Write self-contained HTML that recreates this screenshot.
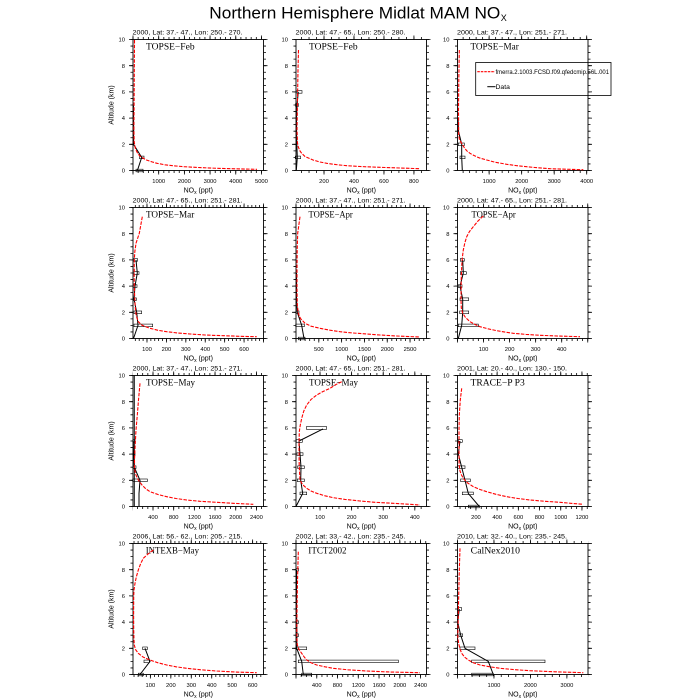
<!DOCTYPE html>
<html><head><meta charset="utf-8"><style>
html,body{margin:0;padding:0;background:#fff}
svg{display:block}
text{font-family:"Liberation Sans",sans-serif;fill:#000}
.yl{font-size:5.8px;text-anchor:end}
.xl{font-size:5.8px;text-anchor:middle}
.st{font-size:6.6px}
.pl{font-family:"Liberation Serif",serif;font-size:9.5px}
.at{font-size:7px;text-anchor:middle}
.tk{stroke:#000;fill:none}
.M{stroke-width:4}
.m{stroke-width:2.5}
.red{fill:none;stroke:#f00;stroke-width:1.1;stroke-dasharray:3.5 1.3;stroke-linejoin:round}
.blk{fill:none;stroke:#000;stroke-width:1;stroke-linejoin:round}
.bx{fill:none;stroke:#000;stroke-width:0.6}
</style></head><body>
<svg width="700" height="700" viewBox="0 0 700 700" xmlns="http://www.w3.org/2000/svg">
<rect width="700" height="700" fill="#fff"/>
<defs>
<g id="yt">
<path class="tk M" d="M-2 -0.4V131.4" stroke-dasharray="0.8 25.4"/>
<path class="tk m" d="M-1.25 -0.4V131.4" stroke-dasharray="0.8 5.75"/>
<path class="tk M" d="M132.5 -0.4V131.4" stroke-dasharray="0.8 25.4"/>
<path class="tk m" d="M131.75 -0.4V131.4" stroke-dasharray="0.8 5.75"/>
<rect x="0" y="0" width="130.5" height="131" fill="none" stroke="#000" stroke-width="0.9"/>
</g>
</defs>

<text x="209.3" y="18.5" font-size="17" textLength="291" lengthAdjust="spacingAndGlyphs">Northern Hemisphere Midlat MAM NO</text>
<text x="500.8" y="20.8" font-size="9">X</text>

<!-- Panel 1 -->
<g transform="translate(133,39.5)">
<use href="#yt"/>
<path class="tk M" d="M-0.4 133H130.9" stroke-dasharray="0.8 24.89"/>
<path class="tk m" d="M-0.4 132.25H130.9" stroke-dasharray="0.8 4.338"/>
<path class="tk M" d="M-0.4 -2H130.9" stroke-dasharray="0.8 24.89"/>
<path class="tk m" d="M-0.4 -1.25H130.9" stroke-dasharray="0.8 4.338"/>
<text class="yl" x="-8" y="133.1">0</text><text class="yl" x="-8" y="106.9">2</text><text class="yl" x="-8" y="80.7">4</text><text class="yl" x="-8" y="54.5">6</text><text class="yl" x="-8" y="28.3">8</text><text class="yl" x="-8" y="2.1">10</text>
<text class="xl" x="25.69" y="143.5">1000</text><text class="xl" x="51.38" y="143.5">2000</text><text class="xl" x="77.07" y="143.5">3000</text><text class="xl" x="102.76" y="143.5">4000</text><text class="xl" x="128.45" y="143.5">5000</text>
<text class="at" x="65.25" y="153">NO<tspan font-size="5" dy="1.5">x</tspan><tspan dy="-1.5"> (ppt)</tspan></text>
<text class="at" transform="translate(-19.5,65.5) rotate(-90)">Altitude (km)</text>
<text class="st" x="-0.5" y="-5" textLength="110" lengthAdjust="spacingAndGlyphs">2000, Lat: 37.- 47., Lon: 250.- 270.</text>
<text class="pl" x="13" y="10" textLength="48.6" lengthAdjust="spacingAndGlyphs">TOPSE−Feb</text>
</g>

<!-- Panel 2 -->
<g transform="translate(296,39.5)">
<use href="#yt"/>
<path class="tk M" d="M-0.4 133H130.9" stroke-dasharray="0.8 29.17" stroke-dashoffset="1.95"/>
<path class="tk m" d="M-0.4 132.25H130.9" stroke-dasharray="0.8 6.69" stroke-dashoffset="1.95"/>
<path class="tk M" d="M-0.4 -2H130.9" stroke-dasharray="0.8 29.17" stroke-dashoffset="1.95"/>
<path class="tk m" d="M-0.4 -1.25H130.9" stroke-dasharray="0.8 6.69" stroke-dashoffset="1.95"/>
<text class="yl" x="-8" y="133.1">0</text><text class="yl" x="-8" y="106.9">2</text><text class="yl" x="-8" y="80.7">4</text><text class="yl" x="-8" y="54.5">6</text><text class="yl" x="-8" y="28.3">8</text><text class="yl" x="-8" y="2.1">10</text>
<text class="xl" x="28.02" y="143.5">200</text><text class="xl" x="57.98" y="143.5">400</text><text class="xl" x="87.95" y="143.5">600</text><text class="xl" x="117.92" y="143.5">800</text>
<text class="at" x="65.25" y="153">NO<tspan font-size="5" dy="1.5">x</tspan><tspan dy="-1.5"> (ppt)</tspan></text>
<text class="st" x="-0.5" y="-5" textLength="110" lengthAdjust="spacingAndGlyphs">2000, Lat: 47.- 65., Lon: 250.- 280.</text>
<text class="pl" x="13" y="10" textLength="48.6" lengthAdjust="spacingAndGlyphs">TOPSE−Feb</text>
</g>

<!-- Panel 3 -->
<g transform="translate(457.5,39.5)">
<use href="#yt"/>
<path class="tk M" d="M-0.4 133H130.9" stroke-dasharray="0.8 31.72" stroke-dashoffset="0.878"/>
<path class="tk m" d="M-0.4 132.25H130.9" stroke-dasharray="0.8 5.704" stroke-dashoffset="0.878"/>
<path class="tk M" d="M-0.4 -2H130.9" stroke-dasharray="0.8 31.72" stroke-dashoffset="0.878"/>
<path class="tk m" d="M-0.4 -1.25H130.9" stroke-dasharray="0.8 5.704" stroke-dashoffset="0.878"/>
<text class="yl" x="-8" y="133.1">0</text><text class="yl" x="-8" y="106.9">2</text><text class="yl" x="-8" y="80.7">4</text><text class="yl" x="-8" y="54.5">6</text><text class="yl" x="-8" y="28.3">8</text><text class="yl" x="-8" y="2.1">10</text>
<text class="xl" x="31.64" y="143.5">1000</text><text class="xl" x="64.16" y="143.5">2000</text><text class="xl" x="96.68" y="143.5">3000</text><text class="xl" x="129.2" y="143.5">4000</text>
<text class="at" x="65.25" y="153">NO<tspan font-size="5" dy="1.5">x</tspan><tspan dy="-1.5"> (ppt)</tspan></text>
<text class="st" x="-0.5" y="-5" textLength="110" lengthAdjust="spacingAndGlyphs">2000, Lat: 37.- 47., Lon: 251.- 271.</text>
<text class="pl" x="13" y="10" textLength="48.3" lengthAdjust="spacingAndGlyphs">TOPSE−Mar</text>
</g>

<!-- Panel 4 -->
<g transform="translate(133,207.5)">
<use href="#yt"/>
<path class="tk M" d="M-0.4 133H130.9" stroke-dasharray="0.8 18.62" stroke-dashoffset="5.44"/>
<path class="tk m" d="M-0.4 132.25H130.9" stroke-dasharray="0.8 3.084" stroke-dashoffset="1.556"/>
<path class="tk M" d="M-0.4 -2H130.9" stroke-dasharray="0.8 18.62" stroke-dashoffset="5.44"/>
<path class="tk m" d="M-0.4 -1.25H130.9" stroke-dasharray="0.8 3.084" stroke-dashoffset="1.556"/>
<text class="yl" x="-8" y="133.1">0</text><text class="yl" x="-8" y="106.9">2</text><text class="yl" x="-8" y="80.7">4</text><text class="yl" x="-8" y="54.5">6</text><text class="yl" x="-8" y="28.3">8</text><text class="yl" x="-8" y="2.1">10</text>
<text class="xl" x="13.98" y="143.5">100</text><text class="xl" x="33.4" y="143.5">200</text><text class="xl" x="52.82" y="143.5">300</text><text class="xl" x="72.24" y="143.5">400</text><text class="xl" x="91.66" y="143.5">500</text><text class="xl" x="111.08" y="143.5">600</text>
<text class="at" x="65.25" y="153">NO<tspan font-size="5" dy="1.5">x</tspan><tspan dy="-1.5"> (ppt)</tspan></text>
<text class="at" transform="translate(-19.5,65.5) rotate(-90)">Altitude (km)</text>
<text class="st" x="-0.5" y="-5" textLength="110" lengthAdjust="spacingAndGlyphs">2000, Lat: 47.- 65., Lon: 251.- 281.</text>
<text class="pl" x="13" y="10" textLength="48.3" lengthAdjust="spacingAndGlyphs">TOPSE−Mar</text>
</g>

<!-- Panel 5 -->
<g transform="translate(296,207.5)">
<use href="#yt"/>
<path class="tk M" d="M-0.4 133H130.9" stroke-dasharray="0.8 22.01"/>
<path class="tk m" d="M-0.4 132.25H130.9" stroke-dasharray="0.8 3.763"/>
<path class="tk M" d="M-0.4 -2H130.9" stroke-dasharray="0.8 22.01"/>
<path class="tk m" d="M-0.4 -1.25H130.9" stroke-dasharray="0.8 3.763"/>
<text class="yl" x="-8" y="133.1">0</text><text class="yl" x="-8" y="106.9">2</text><text class="yl" x="-8" y="80.7">4</text><text class="yl" x="-8" y="54.5">6</text><text class="yl" x="-8" y="28.3">8</text><text class="yl" x="-8" y="2.1">10</text>
<text class="xl" x="22.81" y="143.5">500</text><text class="xl" x="45.63" y="143.5">1000</text><text class="xl" x="68.44" y="143.5">1500</text><text class="xl" x="91.26" y="143.5">2000</text><text class="xl" x="114.07" y="143.5">2500</text>
<text class="at" x="65.25" y="153">NO<tspan font-size="5" dy="1.5">x</tspan><tspan dy="-1.5"> (ppt)</tspan></text>
<text class="st" x="-0.5" y="-5" textLength="110" lengthAdjust="spacingAndGlyphs">2000, Lat: 37.- 47., Lon: 251.- 271.</text>
<text class="pl" x="12.5" y="10" textLength="44.3" lengthAdjust="spacingAndGlyphs">TOPSE−Apr</text>
</g>

<!-- Panel 6 -->
<g transform="translate(457.5,207.5)">
<use href="#yt"/>
<path class="tk M" d="M-0.4 133H130.9" stroke-dasharray="0.8 25.25"/>
<path class="tk m" d="M-0.4 132.25H130.9" stroke-dasharray="0.8 4.41"/>
<path class="tk M" d="M-0.4 -2H130.9" stroke-dasharray="0.8 25.25"/>
<path class="tk m" d="M-0.4 -1.25H130.9" stroke-dasharray="0.8 4.41"/>
<text class="yl" x="-8" y="133.1">0</text><text class="yl" x="-8" y="106.9">2</text><text class="yl" x="-8" y="80.7">4</text><text class="yl" x="-8" y="54.5">6</text><text class="yl" x="-8" y="28.3">8</text><text class="yl" x="-8" y="2.1">10</text>
<text class="xl" x="26.05" y="143.5">100</text><text class="xl" x="52.1" y="143.5">200</text><text class="xl" x="78.14" y="143.5">300</text><text class="xl" x="104.19" y="143.5">400</text>
<text class="at" x="65.25" y="153">NO<tspan font-size="5" dy="1.5">x</tspan><tspan dy="-1.5"> (ppt)</tspan></text>
<text class="st" x="-0.5" y="-5" textLength="110" lengthAdjust="spacingAndGlyphs">2000, Lat: 47.- 65., Lon: 251.- 281.</text>
<text class="pl" x="14" y="10" textLength="44.3" lengthAdjust="spacingAndGlyphs">TOPSE−Apr</text>
</g>

<!-- Panel 7 -->
<g transform="translate(133,375.5)">
<use href="#yt"/>
<path class="tk M" d="M-0.4 133H130.9" stroke-dasharray="0.8 19.88" stroke-dashoffset="0.672"/>
<path class="tk m" d="M-0.4 132.25H130.9" stroke-dasharray="0.8 4.37" stroke-dashoffset="0.672"/>
<path class="tk M" d="M-0.4 -2H130.9" stroke-dasharray="0.8 19.88" stroke-dashoffset="0.672"/>
<path class="tk m" d="M-0.4 -1.25H130.9" stroke-dasharray="0.8 4.37" stroke-dashoffset="0.672"/>
<text class="yl" x="-8" y="133.1">0</text><text class="yl" x="-8" y="106.9">2</text><text class="yl" x="-8" y="80.7">4</text><text class="yl" x="-8" y="54.5">6</text><text class="yl" x="-8" y="28.3">8</text><text class="yl" x="-8" y="2.1">10</text>
<text class="xl" x="20.01" y="143.5">400</text><text class="xl" x="40.69" y="143.5">800</text><text class="xl" x="61.37" y="143.5">1200</text><text class="xl" x="82.05" y="143.5">1600</text><text class="xl" x="102.73" y="143.5">2000</text><text class="xl" x="123.41" y="143.5">2400</text>
<text class="at" x="65.25" y="153">NO<tspan font-size="5" dy="1.5">x</tspan><tspan dy="-1.5"> (ppt)</tspan></text>
<text class="at" transform="translate(-19.5,65.5) rotate(-90)">Altitude (km)</text>
<text class="st" x="-0.5" y="-5" textLength="110" lengthAdjust="spacingAndGlyphs">2000, Lat: 37.- 47., Lon: 251.- 271.</text>
<text class="pl" x="13" y="10" textLength="49" lengthAdjust="spacingAndGlyphs">TOPSE−May</text>
</g>

<!-- Panel 8 -->
<g transform="translate(296,375.5)">
<use href="#yt"/>
<path class="tk M" d="M-0.4 133H130.9" stroke-dasharray="0.8 30.8" stroke-dashoffset="7.58"/>
<path class="tk m" d="M-0.4 132.25H130.9" stroke-dasharray="0.8 5.52" stroke-dashoffset="1.26"/>
<path class="tk M" d="M-0.4 -2H130.9" stroke-dasharray="0.8 30.8" stroke-dashoffset="7.58"/>
<path class="tk m" d="M-0.4 -1.25H130.9" stroke-dasharray="0.8 5.52" stroke-dashoffset="1.26"/>
<text class="yl" x="-8" y="133.1">0</text><text class="yl" x="-8" y="106.9">2</text><text class="yl" x="-8" y="80.7">4</text><text class="yl" x="-8" y="54.5">6</text><text class="yl" x="-8" y="28.3">8</text><text class="yl" x="-8" y="2.1">10</text>
<text class="xl" x="24.01" y="143.5">100</text><text class="xl" x="55.61" y="143.5">200</text><text class="xl" x="87.21" y="143.5">300</text><text class="xl" x="118.81" y="143.5">400</text>
<text class="at" x="65.25" y="153">NO<tspan font-size="5" dy="1.5">x</tspan><tspan dy="-1.5"> (ppt)</tspan></text>
<text class="st" x="-0.5" y="-5" textLength="110" lengthAdjust="spacingAndGlyphs">2000, Lat: 47.- 65., Lon: 251.- 281.</text>
<text class="pl" x="13" y="10" textLength="49" lengthAdjust="spacingAndGlyphs">TOPSE−May</text>
</g>

<!-- Panel 9 -->
<g transform="translate(457.5,375.5)">
<use href="#yt"/>
<path class="tk M" d="M-0.4 133H130.9" stroke-dasharray="0.8 20.4" stroke-dashoffset="2.76"/>
<path class="tk m" d="M-0.4 132.25H130.9" stroke-dasharray="0.8 4.5" stroke-dashoffset="2.76"/>
<path class="tk M" d="M-0.4 -2H130.9" stroke-dasharray="0.8 20.4" stroke-dashoffset="2.76"/>
<path class="tk m" d="M-0.4 -1.25H130.9" stroke-dasharray="0.8 4.5" stroke-dashoffset="2.76"/>
<text class="yl" x="-8" y="133.1">0</text><text class="yl" x="-8" y="106.9">2</text><text class="yl" x="-8" y="80.7">4</text><text class="yl" x="-8" y="54.5">6</text><text class="yl" x="-8" y="28.3">8</text><text class="yl" x="-8" y="2.1">10</text>
<text class="xl" x="18.45" y="143.5">200</text><text class="xl" x="39.65" y="143.5">400</text><text class="xl" x="60.85" y="143.5">600</text><text class="xl" x="82.05" y="143.5">800</text><text class="xl" x="103.26" y="143.5">1000</text><text class="xl" x="124.46" y="143.5">1200</text>
<text class="at" x="65.25" y="153">NO<tspan font-size="5" dy="1.5">x</tspan><tspan dy="-1.5"> (ppt)</tspan></text>
<text class="st" x="-0.5" y="-5" textLength="110" lengthAdjust="spacingAndGlyphs">2001, Lat: 20.- 40., Lon: 130.- 150.</text>
<text class="pl" x="13" y="10" textLength="54.3" lengthAdjust="spacingAndGlyphs">TRACE−P P3</text>
</g>

<!-- Panel 10 -->
<g transform="translate(133,543.5)">
<use href="#yt"/>
<path class="tk M" d="M-0.4 133H130.9" stroke-dasharray="0.8 19.65" stroke-dashoffset="3.07"/>
<path class="tk m" d="M-0.4 132.25H130.9" stroke-dasharray="0.8 3.29" stroke-dashoffset="3.07"/>
<path class="tk M" d="M-0.4 -2H130.9" stroke-dasharray="0.8 19.65" stroke-dashoffset="3.07"/>
<path class="tk m" d="M-0.4 -1.25H130.9" stroke-dasharray="0.8 3.29" stroke-dashoffset="3.07"/>
<text class="yl" x="-8" y="133.1">0</text><text class="yl" x="-8" y="106.9">2</text><text class="yl" x="-8" y="80.7">4</text><text class="yl" x="-8" y="54.5">6</text><text class="yl" x="-8" y="28.3">8</text><text class="yl" x="-8" y="2.1">10</text>
<text class="xl" x="17.39" y="143.5">100</text><text class="xl" x="37.84" y="143.5">200</text><text class="xl" x="58.3" y="143.5">300</text><text class="xl" x="78.75" y="143.5">400</text><text class="xl" x="99.2" y="143.5">500</text><text class="xl" x="119.66" y="143.5">600</text>
<text class="at" x="65.25" y="153">NO<tspan font-size="5" dy="1.5">x</tspan><tspan dy="-1.5"> (ppt)</tspan></text>
<text class="at" transform="translate(-19.5,65.5) rotate(-90)">Altitude (km)</text>
<text class="st" x="-0.5" y="-5" textLength="110" lengthAdjust="spacingAndGlyphs">2006, Lat: 56.- 62., Lon: 205.- 215.</text>
<text class="pl" x="12.7" y="10" textLength="53.3" lengthAdjust="spacingAndGlyphs">INTEXB−May</text>
</g>

<!-- Panel 11 -->
<g transform="translate(296,543.5)">
<use href="#yt"/>
<path class="tk M" d="M-0.4 133H130.9" stroke-dasharray="0.8 19.96"/>
<path class="tk m" d="M-0.4 132.25H130.9" stroke-dasharray="0.8 4.39"/>
<path class="tk M" d="M-0.4 -2H130.9" stroke-dasharray="0.8 19.96"/>
<path class="tk m" d="M-0.4 -1.25H130.9" stroke-dasharray="0.8 4.39"/>
<text class="yl" x="-8" y="133.1">0</text><text class="yl" x="-8" y="106.9">2</text><text class="yl" x="-8" y="80.7">4</text><text class="yl" x="-8" y="54.5">6</text><text class="yl" x="-8" y="28.3">8</text><text class="yl" x="-8" y="2.1">10</text>
<text class="xl" x="20.76" y="143.5">400</text><text class="xl" x="41.53" y="143.5">800</text><text class="xl" x="62.29" y="143.5">1200</text><text class="xl" x="83.05" y="143.5">1600</text><text class="xl" x="103.82" y="143.5">2000</text><text class="xl" x="124.58" y="143.5">2400</text>
<text class="at" x="65.25" y="153">NO<tspan font-size="5" dy="1.5">x</tspan><tspan dy="-1.5"> (ppt)</tspan></text>
<text class="st" x="-0.5" y="-5" textLength="110" lengthAdjust="spacingAndGlyphs">2002, Lat: 33.- 42., Lon: 235.- 245.</text>
<text class="pl" x="12.3" y="10" textLength="38.3" lengthAdjust="spacingAndGlyphs">ITCT2002</text>
</g>

<!-- Panel 12 -->
<g transform="translate(457.5,543.5)">
<use href="#yt"/>
<path class="tk M" d="M-0.4 133H130.9" stroke-dasharray="0.8 35.66"/>
<path class="tk m" d="M-0.4 132.25H130.9" stroke-dasharray="0.8 6.49"/>
<path class="tk M" d="M-0.4 -2H130.9" stroke-dasharray="0.8 35.66"/>
<path class="tk m" d="M-0.4 -1.25H130.9" stroke-dasharray="0.8 6.49"/>
<text class="yl" x="-8" y="133.1">0</text><text class="yl" x="-8" y="106.9">2</text><text class="yl" x="-8" y="80.7">4</text><text class="yl" x="-8" y="54.5">6</text><text class="yl" x="-8" y="28.3">8</text><text class="yl" x="-8" y="2.1">10</text>
<text class="xl" x="36.46" y="143.5">1000</text><text class="xl" x="72.93" y="143.5">2000</text><text class="xl" x="109.39" y="143.5">3000</text>
<text class="at" x="65.25" y="153">NO<tspan font-size="5" dy="1.5">x</tspan><tspan dy="-1.5"> (ppt)</tspan></text>
<text class="st" x="-0.5" y="-5" textLength="110" lengthAdjust="spacingAndGlyphs">2010, Lat: 32.- 40., Lon: 235.- 245.</text>
<text class="pl" x="13.2" y="10" textLength="49.3" lengthAdjust="spacingAndGlyphs">CalNex2010</text>
</g>

<!-- ===== DATA ===== -->
<!-- P1 -->
<polyline class="blk" points="133.5,105 133.5,118 133.7,131 133.5,144.3 141.7,157.4 137.5,170.2"/>
<rect class="bx" x="139.5" y="156.1" width="4.5" height="2.6"/>
<rect class="bx" x="136" y="169.2" width="7" height="2.6"/>
<polyline class="red" points="134.5,40 134.2,90 133.9,130 134.2,142 135.5,149 138,154 141,157 146,159.8 152,161.9 157,163.3 165,164.8 175,165.9 184,166.7 200,167.6 217,168.3 235,168.8 257,169.3"/>

<!-- P2 -->
<polyline class="blk" points="298.3,91.9 297,105 296.5,118.1 296.5,131.2 296.8,144.3 297.3,157.4 296.3,170.5"/>
<rect class="bx" x="297" y="90.6" width="5" height="2.6"/>
<rect class="bx" x="295.5" y="103.7" width="3" height="2.6"/>
<rect class="bx" x="295.3" y="156.1" width="5.3" height="2.6"/>
<polyline class="red" points="298.5,50 298,70 297.5,100 297,130 297.5,143 298.3,147 300,151 301.7,153.3 305,156.5 313,160 320,162 326.7,163.3 336,164.6 346.7,165.7 362,166.6 380,167.3 400,168 420,168.7"/>

<!-- P3 -->
<polyline class="blk" points="458,118 458.5,131.2 461.7,144.3 461.7,157.4 462.3,170.5"/>
<rect class="bx" x="458.3" y="143" width="6" height="2.6"/>
<rect class="bx" x="460" y="156.1" width="5" height="2.6"/>
<polyline class="red" points="459.3,50 458.8,80 458.5,110 458.7,135 459.5,140 461.7,143.3 464.5,148 467,151 470,153.3 474,155.5 479,157.8 486.7,160 495,162.2 506.7,164.3 516,165.6 526.7,166.7 538,167.8 550,168.7 565,169.2 583.3,169.7"/>

<!-- P4 -->
<polyline class="blk" points="136,259.9 137.3,273 135,286.1 134,299.2 136.7,312.3 138,325.4 133.5,338.5"/>
<rect class="bx" x="133.5" y="258.6" width="4" height="2.6"/>
<rect class="bx" x="134" y="271.7" width="5" height="2.6"/>
<rect class="bx" x="133.3" y="284.8" width="3.7" height="2.6"/>
<rect class="bx" x="133.3" y="297.9" width="3" height="2.6"/>
<rect class="bx" x="134" y="311" width="7.7" height="2.6"/>
<rect class="bx" x="134" y="324.1" width="18.7" height="2.6"/>
<polyline class="red" points="142.3,216.7 139.3,233.3 136,243.3 134.8,252 134.3,260 134.2,275 134.3,287 134.8,300 135.5,310 136.3,316 138.3,321.7 142,325.2 150,328.3 158,330.3 166.7,331.7 178,333 190,334 205,335 223.3,335.7 240,336.3 256.7,336.7"/>

<!-- P5 -->
<polyline class="blk" points="296.5,273 296.5,286.1 296.5,299.2 297.3,312.3 301.7,325.4 304,338.5"/>
<rect class="bx" x="296" y="311" width="3" height="2.6"/>
<rect class="bx" x="295.7" y="324.1" width="8.6" height="2.6"/>
<rect class="bx" x="298.3" y="337.2" width="6.7" height="2.6"/>
<polyline class="red" points="300,216.7 297.7,233.3 297.2,250 297,270 297,290 297.3,305 298.3,313.3 300.5,318.5 305,323.3 311,326.2 320,328.3 330,330.2 340,331.7 353,333 366.7,334 380,335 396.7,336 410,336.6 420,337"/>

<!-- P6 -->
<polyline class="blk" points="462.7,259.9 463.3,273 460,286.1 462.7,299.2 462.7,312.3 461.7,325.4 458.3,338.5"/>
<rect class="bx" x="460.3" y="258.6" width="4" height="2.6"/>
<rect class="bx" x="460.3" y="271.7" width="6" height="2.6"/>
<rect class="bx" x="458.3" y="284.8" width="3.7" height="2.6"/>
<rect class="bx" x="460" y="297.9" width="8.7" height="2.6"/>
<rect class="bx" x="459.7" y="311" width="9" height="2.6"/>
<rect class="bx" x="458.3" y="324.1" width="20" height="2.6"/>
<polyline class="red" points="483.3,216 478,221 473.3,226.7 469.5,231.5 466.7,236.7 464.8,243 463.3,250 462.3,258 461.7,266.7 461.2,280 461,300 461.3,308 462.7,313.3 465.5,317.5 470,321.7 475,324.5 480,326.7 488,328.8 496.7,330.7 505,332.1 513.3,333.3 526,334.4 540,335.3 560,336.1 580,336.7"/>

<!-- P7 -->
<line x1="134.3" y1="375.5" x2="134.3" y2="506.5" stroke="#000" stroke-width="0.9"/>
<polyline class="blk" points="133.3,441 133.5,454.1 134.3,467.2 140,480.3 139,493.4 139,506.5"/>
<rect class="bx" x="133" y="439.7" width="2" height="2.6"/>
<rect class="bx" x="133" y="452.8" width="2" height="2.6"/>
<rect class="bx" x="133" y="465.9" width="3" height="2.6"/>
<rect class="bx" x="132.7" y="479" width="14.6" height="2.6"/>
<polyline class="red" points="140,383.3 138.5,400 137.3,415 136,430 135,448.3 134.5,460 134.5,468 135.5,474 138.3,480 142,485 146,489 150,491.7 158,494.5 166.7,496.7 176,498.5 186.7,500 200,501.3 216.7,502.3 235,503.4 253.3,504.3"/>

<!-- P8 -->
<polyline class="blk" points="323,428.9 299,441 300,454.1 301,467.2 300.7,480.3 302.7,493.4 296,506.5"/>
<rect class="bx" x="306.7" y="426.3" width="19.6" height="3.3"/>
<rect class="bx" x="296.3" y="439.7" width="6" height="2.6"/>
<rect class="bx" x="297" y="452.8" width="6" height="2.6"/>
<rect class="bx" x="297.7" y="465.9" width="6.6" height="2.6"/>
<rect class="bx" x="297.3" y="479" width="7" height="2.6"/>
<rect class="bx" x="300" y="492.1" width="6.7" height="2.6"/>
<polyline class="red" points="341.7,381.7 336,384.5 330,388.3 323,391.5 316.7,395 311,399.5 306.7,405 303.8,411 301.7,418.3 300.3,425 299.3,431.7 299,445 299.2,465 299.6,473 300,480 302.5,484.5 306.7,488.3 311,491 316.7,493.3 325,495.8 333.3,497.7 345,499.4 360,501 375,502.3 393.3,503.3 408,504.2 420,505"/>

<!-- P9 -->
<polyline class="blk" points="460,441 458.3,454.1 461.7,467.2 465,480.3 468.3,493.4 479.3,506.5"/>
<rect class="bx" x="458.3" y="439.7" width="4" height="2.6"/>
<rect class="bx" x="457.7" y="465.9" width="7.3" height="2.6"/>
<rect class="bx" x="460.7" y="479" width="9.6" height="2.6"/>
<rect class="bx" x="462.3" y="492.1" width="11" height="2.6"/>
<rect class="bx" x="468.3" y="505.2" width="11" height="2.6"/>
<polyline class="red" points="461.7,388.3 460.3,400 459.3,415 459,430 459,448.3 459.1,465 460,471 461.5,475 463.3,478.3 467,482.5 473.3,486.7 480,489.5 486.7,491.7 496,494.3 506.7,496.7 518,498.5 530,500 545,501.3 560,502.3 572,503.4 583.3,504.3"/>

<!-- P10 -->
<polyline class="blk" points="145,648.3 150,661.4 140,674.5"/>
<rect class="bx" x="142.7" y="647" width="4.6" height="2.6"/>
<rect class="bx" x="144" y="660.1" width="5.3" height="2.6"/>
<rect class="bx" x="138.3" y="673.2" width="5" height="2.6"/>
<polyline class="red" points="153.3,550 148,554 143.3,558.3 140.5,564 138.3,570 136.3,577 135,583.3 134,590 133.7,596.7 133.6,615 133.7,630 134,640 134.3,645 135.5,649.5 138.3,653.3 143,657 150,660 158,662.8 166.7,665 176,666.8 186.7,668.3 200,669.7 216.7,671 235,672 256.7,672.7"/>

<!-- P11 -->
<polyline class="blk" points="296.5,569.7 296.5,582.8 296.5,595.9 296.5,609 296.7,622.1 297,635.2 296.7,648.3 301.7,661.4 303.3,674.5"/>
<rect class="bx" x="296" y="568.4" width="2.5" height="2.6"/>
<rect class="bx" x="296" y="620.8" width="2.5" height="2.6"/>
<rect class="bx" x="296" y="633.9" width="2.5" height="2.6"/>
<rect class="bx" x="296" y="647" width="10.7" height="2.6"/>
<rect class="bx" x="298.3" y="660.1" width="100" height="2.6"/>
<rect class="bx" x="301.7" y="673.2" width="10" height="2.6"/>
<polyline class="red" points="298.3,551.7 297.8,570 297.3,590 297,610 296.8,630 296.9,638 297.3,645 299,649.5 301.7,653.3 304,656.7 306.7,660 311,662.7 316.7,665 325,666.8 333.3,668.3 348,669.8 366.7,671 390,672 420,672.7"/>

<!-- P12 -->
<polyline class="blk" points="459.3,609 457.7,622.1 460.7,635.2 465,648.3 488.3,661.4 493.3,674.5"/>
<rect class="bx" x="458" y="607.7" width="3.7" height="2.6"/>
<rect class="bx" x="459" y="633.9" width="3.7" height="2.6"/>
<rect class="bx" x="460" y="647" width="15" height="2.6"/>
<rect class="bx" x="471.7" y="660.1" width="73.3" height="2.6"/>
<rect class="bx" x="471.7" y="673.2" width="21.6" height="2.6"/>
<polyline class="red" points="460,548.3 459.3,570 458.6,600 458.2,620 457.8,636.7 458.3,641 459,645 460,649 461.7,653.3 464.5,657 468.3,660 473.5,662.8 480,665 490,666.8 500,668.3 514,669.6 530,670.7 555,671.8 583.3,672.7"/>

<!-- Legend -->
<rect x="475.7" y="62.5" width="135.3" height="33" fill="none" stroke="#000" stroke-width="0.8"/>
<line x1="477.3" y1="71.7" x2="495" y2="71.7" stroke="#f00" stroke-width="1.1" stroke-dasharray="2.5 1"/>
<text x="495.5" y="74.2" font-size="6.8" textLength="113.5" lengthAdjust="spacingAndGlyphs">fmerra.2.1003.FCSD.f09.qfedcmip.56L.001</text>
<line x1="487.3" y1="86.7" x2="495.5" y2="86.7" stroke="#000" stroke-width="1"/>
<text x="495.5" y="89.2" font-size="6.8">Data</text>
</svg>
</body></html>
